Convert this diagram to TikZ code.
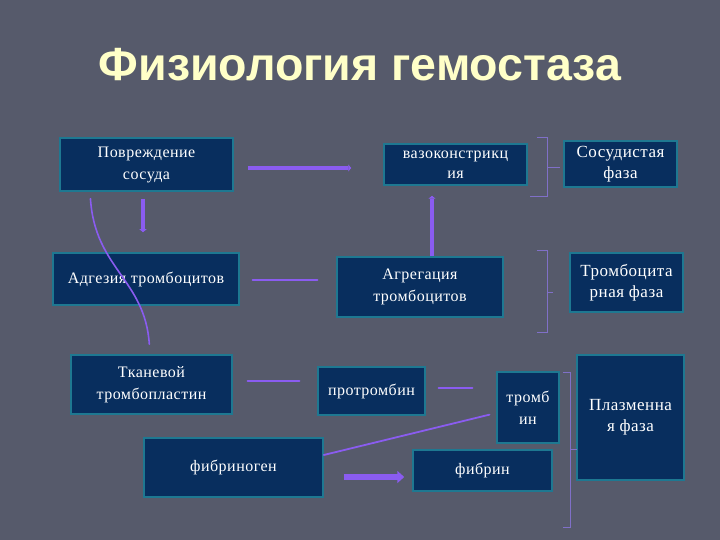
\documentclass[tikz,border=0pt]{standalone}
\usepackage{fontspec}
\setmainfont{Liberation Serif}
\newfontfamily\titlefont{Liberation Sans}
\newfontfamily\boxfont[LetterSpace=3]{Liberation Serif}
\usetikzlibrary{arrows.meta}
\definecolor{slide}{RGB}{86,90,107}
\definecolor{boxfill}{RGB}{8,46,94}
\definecolor{boxrim}{RGB}{30,120,145}
\definecolor{violet}{RGB}{138,92,240}
\definecolor{lilac}{RGB}{128,112,200}
\definecolor{titlecol}{RGB}{255,255,200}
\begin{document}
\begin{tikzpicture}
[x=1pt, y=-1pt, font=\boxfont\fontsize{16}{22}\selectfont, text=white]
\tikzstyle{box}=[rectangle, draw=boxrim, line width=1.5pt, fill=boxfill, align=center, inner sep=0pt]
\tikzstyle{phase}=[box, font=\boxfont\fontsize{17}{21}\selectfont]
\tikzstyle{fat}=[violet, line width=4.5pt, -{Triangle[length=3pt, width=7pt]}]
\tikzstyle{slim}=[violet, line width=2.5pt, line cap=round]
\tikzstyle{bracket}=[lilac, line width=1pt]
\fill[slide] (0,0) rectangle (720,540);
\useasboundingbox (0,0) rectangle (720,540);

\node[font=\titlefont\bfseries\fontsize{46.5}{50}\selectfont, text=titlecol, anchor=base] (title) at (360,81) {Физиология гемостаза};

% left column
\node[box, minimum width=173pt, minimum height=53pt] (damage)   at (146.5,164.5) {Повреждение\\сосуда};
\node[box, minimum width=186pt, minimum height=52pt] (adhesion) at (146,279)     {Адгезия тромбоцитов};
\node[box, minimum width=161pt, minimum height=59pt] (tissue)   at (151.5,384.5) {Тканевой\\тромбопластин};
\node[box, minimum width=179pt, minimum height=59pt] (fbgen)    at (233.5,467.5) {фибриноген};

% middle column
\node[box, minimum width=143pt, minimum height=41pt, font=\boxfont\fontsize{16}{20}\selectfont] (vaso) at (455.5,164.5) {вазоконстрикц\\ия};
\node[box, minimum width=166pt, minimum height=60pt] (aggreg)   at (420,287)     {Агрегация\\тромбоцитов};
\node[box, minimum width=107pt, minimum height=48pt] (prothr)   at (371.5,391)   {протромбин};
\node[box, minimum width=62pt,  minimum height=71pt] (thromb)   at (528,407.5)   {тромб\\ин};
\node[box, minimum width=139pt, minimum height=41pt] (fibrin)   at (482.5,470.5) {фибрин};

% phases
\node[phase, minimum width=113pt, minimum height=46pt]  (vascph)  at (620.5,164)   {Сосудистая\\фаза};
\node[phase, minimum width=113pt, minimum height=59pt]  (plateph) at (626.5,282.5) {Тромбоцита\\рная фаза};
\node[phase, minimum width=107pt, minimum height=125pt] (plasmph) at (630.5,417.5) {Плазменна\\я фаза};

% connectors
\draw[fat, shorten <=14pt, shorten >=32pt] ([yshift=-3.5pt]damage.east) -- ([yshift=-3.5pt]vaso.west);
\draw[fat, shorten <=7pt, shorten >=20pt] ([xshift=-3.5pt]damage.south) -- ([xshift=-3.5pt]damage.south |- adhesion.north);
\draw[fat, shorten <=0pt, shorten >=10pt] ([xshift=12pt]aggreg.north) -- ([xshift=12pt]aggreg.north |- vaso.south);
\draw[slim, shorten <=13pt, shorten >=19pt] ([yshift=-1pt]adhesion.east) -- ([yshift=-1pt]adhesion.east -| aggreg.west);
\draw[slim, shorten <=15pt, shorten >=18pt] ([yshift=3.5pt]tissue.east) -- ([yshift=3.5pt]tissue.east -| prothr.west);
\draw[slim, shorten <=13pt, shorten >=24pt] ([yshift=3pt]prothr.east) -- ([yshift=3pt]prothr.east -| thromb.west);
\draw[slim, line width=1.8pt, shorten >=7pt] ([yshift=12.5pt]fbgen.east) -- ([yshift=-5.5pt]thromb.west);
\draw[violet, line width=6pt, -{Triangle[length=7pt, width=12pt]}, shorten <=20pt, shorten >=8pt] ([yshift=-9.5pt]fbgen.east) -- ([yshift=-9.5pt]fbgen.east -| fibrin.west);
\draw[slim, line width=1.6pt, shorten <=7pt, shorten >=10pt] ([xshift=-56.5pt]damage.south) .. controls +(5,77) and +(-5,-75) .. ([xshift=-1.5pt]tissue.north);

% brackets
\draw[bracket] (537,138) -- (547,138) -- (547,197) -- (530,197);
\draw[bracket] (547,168) -- (560,168);
\draw[bracket] (537,250) -- (547,250) -- (547,332) -- (537,332);
\draw[bracket] (547,292) -- (553,292);
\draw[bracket] (563,372) -- (570,372) -- (570,527) -- (563,527);
\draw[bracket] (570,449) -- (577,449);
\end{tikzpicture}
\end{document}
